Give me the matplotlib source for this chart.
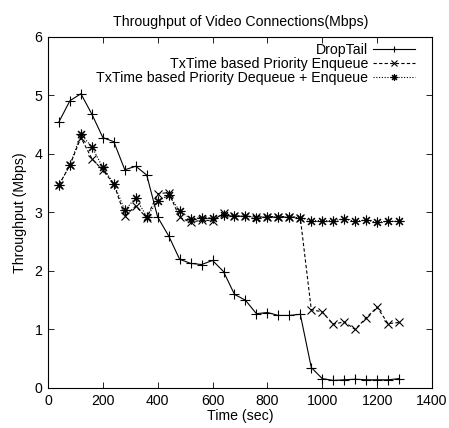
import matplotlib
matplotlib.use("Agg")
import matplotlib.pyplot as plt

plt.rcParams['font.family'] = ['Liberation Sans', 'DejaVu Sans']

# Zeitpunkte (sec), alle 40 s
time_sec = [40, 80, 120, 160, 200, 240, 280, 320, 360, 400, 440, 480, 520, 560, 600, 640,
            680, 720, 760, 800, 840, 880, 920, 960, 1000, 1040, 1080, 1120, 1160, 1200, 1240, 1280]

droptail = [4.55, 4.91, 5.03, 4.68, 4.28, 4.21, 3.73, 3.79, 3.64, 2.92, 2.60, 2.20, 2.13, 2.11, 2.18, 1.99,
            1.60, 1.50, 1.27, 1.29, 1.24, 1.24, 1.26, 0.35, 0.16, 0.13, 0.14, 0.15, 0.14, 0.14, 0.14, 0.16]

prio_enqueue = [3.47, 3.81, 4.28, 3.92, 3.72, 3.49, 2.94, 3.11, 2.91, 3.32, 3.34, 2.92, 2.83, 2.87, 2.86, 2.99,
                2.94, 2.94, 2.92, 2.93, 2.93, 2.93, 2.91, 1.34, 1.30, 1.09, 1.13, 1.00, 1.20, 1.38, 1.10, 1.12]

prio_deq_enq = [3.47, 3.81, 4.34, 4.12, 3.77, 3.49, 3.04, 3.25, 2.93, 3.19, 3.30, 3.03, 2.89, 2.91, 2.90, 2.96,
                2.94, 2.94, 2.91, 2.93, 2.92, 2.92, 2.91, 2.86, 2.86, 2.86, 2.89, 2.85, 2.87, 2.83, 2.85, 2.85]

FS = 10.2

fig = plt.figure(figsize=(4.49, 4.28), dpi=100)
ax = fig.add_axes([0.1069, 0.0935, 0.8551, 0.8201])

ax.plot(time_sec, droptail, color='black', linestyle='-', linewidth=0.8,
        marker='+', markersize=7, markeredgewidth=0.8, label='DropTail')
ax.plot(time_sec, prio_enqueue, color='black', linestyle=(0, (3, 2)), linewidth=0.8,
        marker='x', markersize=6, markeredgewidth=0.8, label='TxTime based Priority Enqueue')
ax.plot(time_sec, prio_deq_enq, color='black', linestyle=(0, (1, 1.5)), linewidth=0.8,
        marker=(8, 2, 0), markersize=7, markeredgewidth=0.8,
        label='TxTime based Priority Dequeue + Enqueue')

ax.set_xlim(0, 1400)
ax.set_ylim(0, 6)
ax.set_xticks(range(0, 1401, 200))
ax.set_yticks(range(0, 7))
ax.tick_params(direction='in', top=True, right=True, labelsize=FS, length=4, width=0.6, pad=4)
for sp in ax.spines.values():
    sp.set_linewidth(0.8)

ax.set_xlabel('Time (sec)', fontsize=FS, labelpad=1)
ax.set_ylabel('Throughput (Mbps)', fontsize=FS, labelpad=5)
fig.text(0.535, 0.949, 'Throughput of Video Connections(Mbps)', fontsize=FS,
         ha='center', va='center')

leg = ax.legend(loc='upper right', markerfirst=False, frameon=False, fontsize=FS,
                handlelength=3.0, handletextpad=0.3, labelspacing=0.0,
                borderpad=0, borderaxespad=0, bbox_to_anchor=(0.956, 0.982),
                markerscale=0.7)

fig.savefig('out.png', dpi=100)
